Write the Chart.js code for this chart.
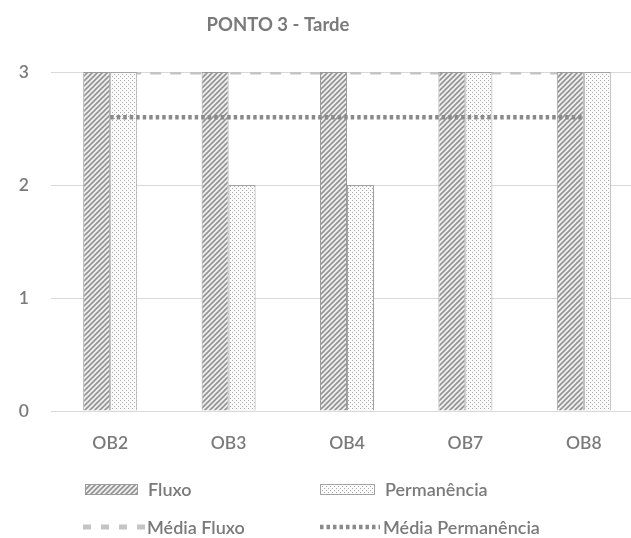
<!DOCTYPE html>
<html>
<head>
<meta charset="utf-8">
<script src="https://cdn.jsdelivr.net/npm/chart.js@4.4.1/dist/chart.umd.min.js"></script>
<style>
  html, body { margin: 0; padding: 0; background: #fff; overflow: hidden; }
  #wrap { width: 631px; height: 538px; overflow: hidden; }
</style>
</head>
<body>
<div id="wrap"><canvas id="myChart" width="650" height="538"></canvas></div>
<script>
    var categorias = ['OB2', 'OB3', 'OB4', 'OB7', 'OB8'];
    var fluxo = [3, 3, 3, 3, 3];
    var permanencia = [3, 2, 2, 3, 3];
    var mediaFluxo = [3, 3, 3, 3, 3];
    var mediaPermanencia = [2.6, 2.6, 2.6, 2.6, 2.6];
    var yTicks = [0, 1, 2, 3];

    var textColor = '#7a7a7a';
    var fontFam = 'Lato, "Open Sans", sans-serif';

    // hachurado (Fluxo)
    function hatch() {
        var c = document.createElement('canvas');
        c.width = 5; c.height = 5;
        var g = c.getContext('2d');
        g.fillStyle = '#efefef';
        g.fillRect(0, 0, 5, 5);
        g.strokeStyle = '#939393';
        g.lineWidth = 1.6;
        g.beginPath();
        g.moveTo(-1, 6); g.lineTo(6, -1);
        g.moveTo(-1, 1); g.lineTo(1, -1);
        g.moveTo(4, 6); g.lineTo(6, 4);
        g.stroke();
        return g.createPattern(c, 'repeat');
    }
    // pontilhado (Permanencia)
    function dots() {
        var c = document.createElement('canvas');
        c.width = 4; c.height = 4;
        var g = c.getContext('2d');
        g.fillStyle = '#fbfbfb';
        g.fillRect(0, 0, 4, 4);
        g.fillStyle = '#a8a8a8';
        g.fillRect(0, 0, 1, 1);
        g.fillRect(2, 2, 1, 1);
        return g.createPattern(c, 'repeat');
    }

    var ctx = document.getElementById('myChart');

    var extras = {
        id: 'extras',
        afterDraw: function (chart) {
            var g = chart.ctx;
            var ds = chart.data.datasets;
            g.save();
            g.fillStyle = textColor;
            g.font = 'bold 18.5px ' + fontFam;
            g.textAlign = 'center';
            g.textBaseline = 'middle';
            g.fillText('PONTO 3 - Tarde', 278, 25);

            var itens = [
                { i: 0, x: 85, y: 489, w: 53, tx: 148 },
                { i: 1, x: 320, y: 489, w: 55, tx: 385 },
                { i: 2, x: 83, y: 527, w: 62, tx: 147 },
                { i: 3, x: 320, y: 527, w: 60, tx: 383 }
            ];
            g.font = '600 18px ' + fontFam;
            g.textAlign = 'left';
            itens.forEach(function (it) {
                var d = ds[it.i];
                if (d.type === 'line') {
                    g.strokeStyle = d.borderColor;
                    g.lineWidth = d.borderWidth;
                    g.setLineDash(d.legendDash);
                    g.beginPath();
                    g.moveTo(it.x, it.y);
                    g.lineTo(it.x + it.w, it.y);
                    g.stroke();
                    g.setLineDash([]);
                } else {
                    g.fillStyle = d.backgroundColor;
                    g.fillRect(it.x, it.y - 5, it.w, 11);
                    g.strokeStyle = d.borderColor;
                    g.lineWidth = 1;
                    g.strokeRect(it.x + 0.5, it.y - 4.5, it.w - 1, 10);
                }
                g.fillStyle = textColor;
                g.fillText(d.label, it.tx, it.y + 1);
            });
            g.restore();
        }
    };

    new Chart(ctx, {
        type: 'bar',
        data: {
            labels: categorias,
            datasets: [{
                label: 'Fluxo',
                data: fluxo,
                backgroundColor: hatch(),
                borderColor: '#9c9c9c',
                borderWidth: 1,
                categoryPercentage: 0.456,
                barPercentage: 1,
                order: 2
            }, {
                label: 'Permanência',
                data: permanencia,
                backgroundColor: dots(),
                borderColor: '#a3a3a3',
                borderWidth: 1,
                categoryPercentage: 0.456,
                barPercentage: 1,
                order: 2
            }, {
                type: 'line',
                label: 'Média Fluxo',
                data: mediaFluxo,
                borderColor: '#c4c4c4',
                borderWidth: 5,
                borderDash: [11, 9],
                legendDash: [8, 10],
                pointRadius: 0,
                fill: false,
                order: 3
            }, {
                type: 'line',
                label: 'Média Permanência',
                data: mediaPermanencia,
                borderColor: '#8a8a8a',
                borderWidth: 4.5,
                borderDash: [3.5, 3],
                legendDash: [3.5, 3],
                pointRadius: 0,
                fill: false,
                order: 1
            }]
        },
        options: {
            responsive: false,
            animation: false,
            layout: { padding: { top: 72, right: 7, left: 0, bottom: 0 } },
            scales: {
                x: {
                    grid: { display: false },
                    border: { display: false },
                    ticks: { color: textColor, font: { family: fontFam, size: 17.5, weight: 600 }, padding: 14 },
                    afterFit: function (s) { s.height = 127; }
                },
                y: {
                    min: 0,
                    max: 3,
                    afterBuildTicks: function (s) { s.ticks = yTicks.map(function (v) { return { value: v }; }); },
                    grid: { color: '#d9d9d9', drawTicks: false },
                    border: { display: false },
                    ticks: { color: textColor, font: { family: fontFam, size: 17.5, weight: 600 }, padding: 22 },
                    afterFit: function (s) { s.width = 51; }
                }
            },
            plugins: {
                legend: { display: false },
                tooltip: { enabled: false }
            }
        },
        plugins: [extras]
    });
</script>
</body>
</html>
